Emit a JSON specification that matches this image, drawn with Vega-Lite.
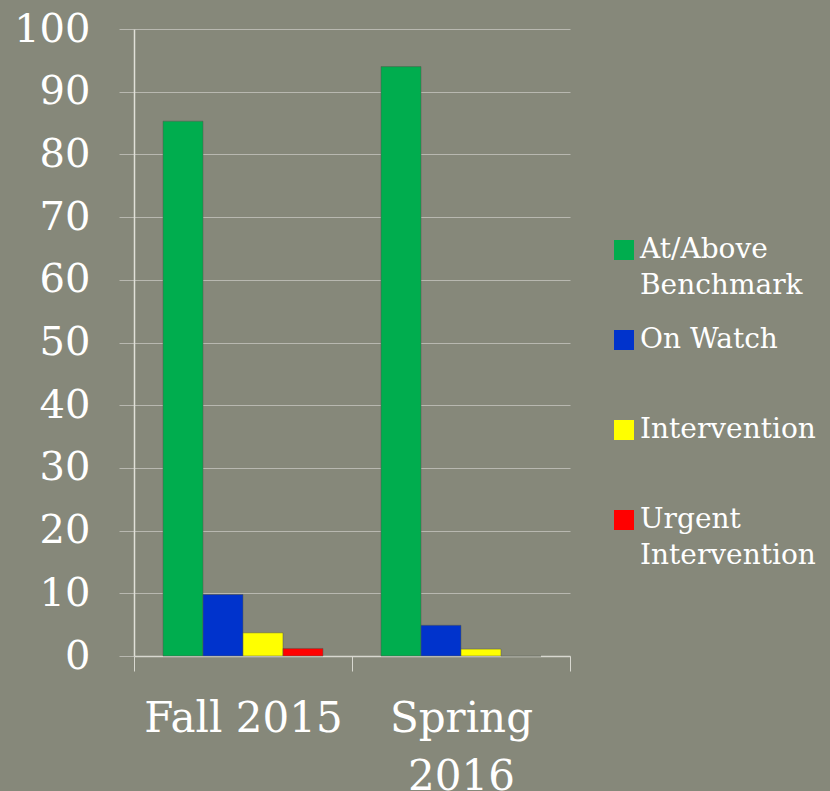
{
  "$schema": "https://vega.github.io/schema/vega-lite/v6.json",
  "width": 436,
  "height": 627,
  "autosize": {"type": "none"},
  "padding": {"left": 134, "top": 29, "right": 260, "bottom": 135},
  "background": "#86887a",
  "config": {
    "view": {"stroke": null},
    "font": "DejaVu Serif",
    "style": {"guide-label": {"lineHeight": 36}}
  },
  "data": {
    "values": [
      {"term": "Fall 2015", "level": "At/Above Benchmark", "pct": 85.3},
      {"term": "Fall 2015", "level": "On Watch", "pct": 9.8},
      {"term": "Fall 2015", "level": "Intervention", "pct": 3.7},
      {"term": "Fall 2015", "level": "Urgent Intervention", "pct": 1.2},
      {"term": "Spring 2016", "level": "At/Above Benchmark", "pct": 94.0},
      {"term": "Spring 2016", "level": "On Watch", "pct": 4.9},
      {"term": "Spring 2016", "level": "Intervention", "pct": 1.1},
      {"term": "Spring 2016", "level": "Urgent Intervention", "pct": 0}
    ]
  },
  "mark": {"type": "bar", "stroke": "#55574c", "strokeWidth": 1, "strokeOpacity": 0.5},
  "encoding": {
    "x": {
      "field": "term",
      "type": "nominal",
      "sort": null,
      "scale": {"paddingInner": 0, "paddingOuter": 0},
      "axis": {
        "title": null,
        "labelAngle": 0,
        "labelFontSize": 42,
        "labelColor": "#ffffff",
        "labelLineHeight": 58,
        "labelPadding": 27,
        "labelLimit": 400,
        "labelExpr": "datum.value == 'Spring 2016' ? ['Spring', '2016'] : datum.value",
        "tickBand": "extent",
        "tickSize": 15,
        "tickColor": "#d8d8d0",
        "domainColor": "#d8d8d0",
        "domainWidth": 1.5,
        "grid": false
      }
    },
    "xOffset": {
      "field": "level",
      "type": "nominal",
      "sort": ["At/Above Benchmark", "On Watch", "Intervention", "Urgent Intervention"],
      "scale": {"paddingInner": 0, "paddingOuter": 0.725}
    },
    "y": {
      "field": "pct",
      "type": "quantitative",
      "scale": {"domain": [0, 100], "nice": false},
      "axis": {
        "title": null,
        "values": [0, 10, 20, 30, 40, 50, 60, 70, 80, 90, 100],
        "labelFontSize": 40,
        "labelColor": "#ffffff",
        "labelPadding": 29,
        "tickSize": 15,
        "tickColor": "#b8b8b0",
        "gridColor": "#b8b8b0",
        "domainColor": "#e0e0d8",
        "domainWidth": 1.5
      }
    },
    "color": {
      "field": "level",
      "type": "nominal",
      "sort": ["At/Above Benchmark", "On Watch", "Intervention", "Urgent Intervention"],
      "scale": {
        "domain": ["At/Above Benchmark", "On Watch", "Intervention", "Urgent Intervention"],
        "range": ["#00ad4e", "#0033cc", "#ffff00", "#ff0000"]
      },
      "legend": {
        "title": null,
        "orient": "none",
        "legendX": 476,
        "legendY": 207,
        "symbolType": "square",
        "symbolSize": 400,
        "symbolOpacity": 1,
        "symbolStrokeWidth": 0,
        "labelFontSize": 28,
        "labelColor": "#ffffff",
        "labelOffset": 2,
        "labelLimit": 300,
        "labelBaseline": "middle",
        "gridAlign": "all",
        "rowPadding": 26,
        "labelExpr": "datum.value == 'At/Above Benchmark' ? ['At/Above', 'Benchmark'] : datum.value == 'Urgent Intervention' ? ['Urgent', 'Intervention'] : datum.value"
      }
    }
  }
}
